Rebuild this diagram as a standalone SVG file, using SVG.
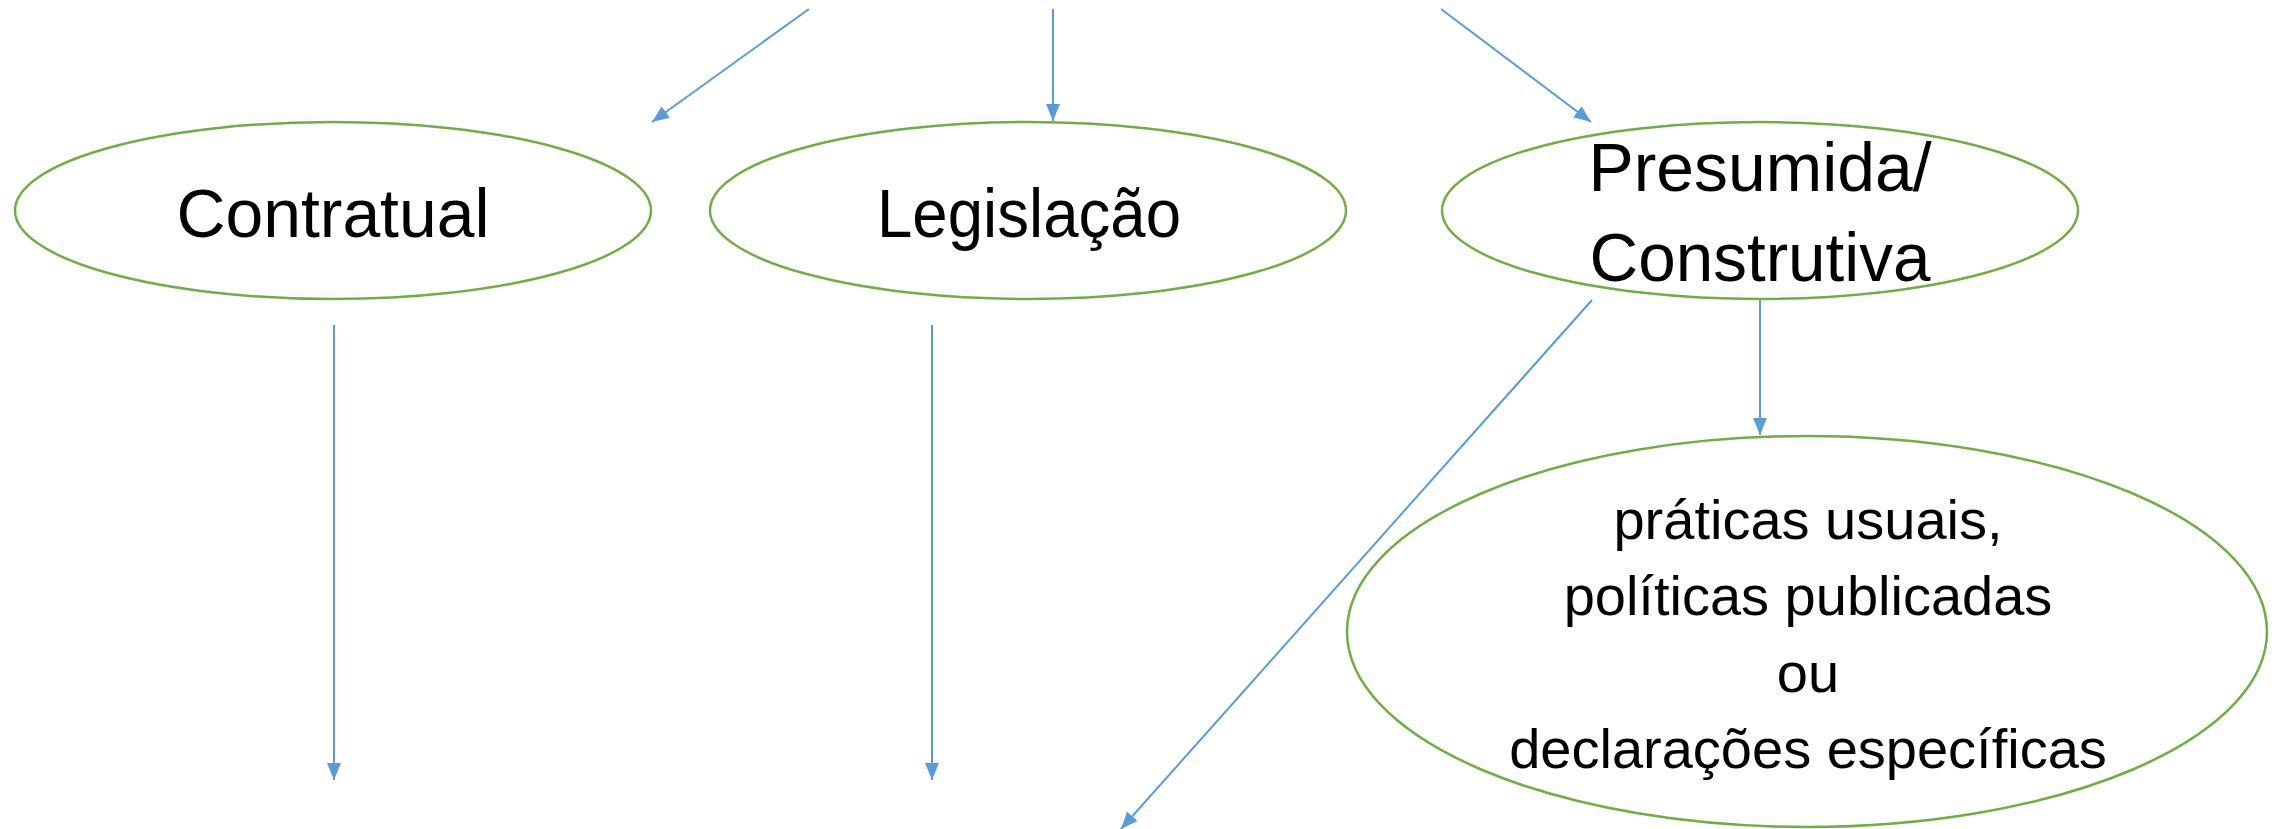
<svg xmlns="http://www.w3.org/2000/svg" width="2282" height="829" viewBox="0 0 2282 829">
<style>
.node ellipse{fill:#fff;stroke:#70AD47;stroke-width:2.5}
.node text{font-family:"Liberation Sans",Arial,sans-serif;fill:#000;text-anchor:middle}
.big{font-size:68px}
.small{font-size:56px}
#connectors line{stroke:#5B9BD5;stroke-width:2;marker-end:url(#arr)}
</style>
<defs>
<marker id="arr" markerUnits="userSpaceOnUse" markerWidth="17" markerHeight="14" refX="17" refY="7" orient="auto">
<path d="M0,0 L17,7 L0,14 z" fill="#5B9BD5"/>
</marker>
</defs>
<rect width="2282" height="829" fill="#fff"/>
<g id="node-contratual" class="node">
<ellipse cx="333" cy="210.5" rx="318" ry="88.5"/>
<text class="big" x="333" y="237" textLength="313" lengthAdjust="spacingAndGlyphs">Contratual</text>
</g>
<g id="node-legislacao" class="node">
<ellipse cx="1028" cy="210.5" rx="318" ry="88.5"/>
<text class="big" x="1029" y="237" textLength="304" lengthAdjust="spacingAndGlyphs">Legislação</text>
</g>
<g id="node-presumida" class="node">
<ellipse cx="1760" cy="210.5" rx="318" ry="88.5"/>
<text class="big" x="1760" y="191" textLength="343" lengthAdjust="spacingAndGlyphs">Presumida/</text>
<text class="big" x="1760" y="281" textLength="341" lengthAdjust="spacingAndGlyphs">Construtiva</text>
</g>
<g id="node-praticas" class="node">
<ellipse cx="1807" cy="631.5" rx="460" ry="195.5"/>
<text class="small" x="1808" y="539">práticas usuais,</text>
<text class="small" x="1808" y="615">políticas publicadas</text>
<text class="small" x="1808" y="692">ou</text>
<text class="small" x="1808" y="768">declarações específicas</text>
</g>
<g id="connectors">
<line x1="809" y1="9" x2="652" y2="122"/>
<line x1="1053" y1="9" x2="1053" y2="121"/>
<line x1="1441" y1="9" x2="1591" y2="122"/>
<line x1="334" y1="325" x2="334" y2="780"/>
<line x1="932" y1="325" x2="932" y2="780"/>
<line x1="1592" y1="300" x2="1121" y2="829"/>
<line x1="1760" y1="300" x2="1760" y2="435"/>
</g>
</svg>
